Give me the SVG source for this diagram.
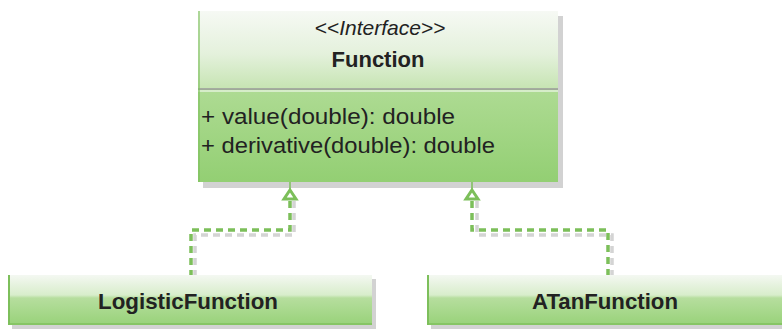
<svg xmlns="http://www.w3.org/2000/svg" width="782" height="329" viewBox="0 0 782 329">
  <defs>
    <linearGradient id="headGrad" x1="0" y1="0" x2="0" y2="1">
      <stop offset="0" stop-color="#f6f9f4"/>
      <stop offset="0.55" stop-color="#e4f1dc"/>
      <stop offset="1" stop-color="#c6e4b2"/>
    </linearGradient>
    <linearGradient id="bodyGrad" x1="0" y1="0" x2="0" y2="1">
      <stop offset="0" stop-color="#aedb93"/>
      <stop offset="1" stop-color="#93cf73"/>
    </linearGradient>
    <linearGradient id="classGrad" x1="0" y1="0" x2="0" y2="1">
      <stop offset="0" stop-color="#f4f8f2"/>
      <stop offset="0.4" stop-color="#d8edcb"/>
      <stop offset="0.46" stop-color="#b6de9e"/>
      <stop offset="1" stop-color="#98d279"/>
    </linearGradient>
  </defs>
  <style>
    .shadow { fill: #d2d2d2; }
    .edge { stroke: #7dbf5b; stroke-width: 2; fill: none; }
    .sep { stroke: #9a9a9a; stroke-width: 1.5; }
    .sepLight { stroke: #ffffff; stroke-width: 1; }
    .stereo { font-family: "Liberation Sans", Arial, sans-serif; font-size: 21px; font-style: italic; fill: #222; text-anchor: middle; }
    .name { font-family: "Liberation Sans", Arial, sans-serif; font-size: 22px; font-weight: bold; fill: #222; text-anchor: middle; }
    .member { font-family: "Liberation Sans", Arial, sans-serif; font-size: 22px; fill: #222; }
    .link { stroke: #7cbf5a; stroke-width: 3.5; fill: none; stroke-dasharray: 7 5; }
    .linkShadow { stroke: #d4d4d4; stroke-width: 3.5; fill: none; stroke-dasharray: 7 5; }
    .stem { stroke: #7cbf5a; stroke-width: 1.5; fill: none; }
    .head { stroke: #7cbf5a; stroke-width: 3; fill: #ffffff; stroke-linejoin: miter; }
  </style>

  <!-- Function interface -->
  <g id="function">
    <rect class="shadow" x="203" y="16" width="360" height="172"/>
    <rect x="198" y="11" width="360" height="78" fill="url(#headGrad)"/>
    <rect x="198" y="89" width="360" height="93" fill="url(#bodyGrad)"/>
    <line class="sep" x1="198" y1="89" x2="558" y2="89"/>
    <line class="sepLight" x1="198" y1="91" x2="558" y2="91"/>
    <line class="edge" x1="199" y1="11" x2="199" y2="182" stroke-opacity="0.6"/>
    <text class="stereo" x="380" y="35">&lt;&lt;Interface&gt;&gt;</text>
    <text class="name" x="378" y="67">Function</text>
    <text class="member" x="201" y="124" textLength="254" lengthAdjust="spacingAndGlyphs">+ value(double): double</text>
    <text class="member" x="201" y="153" textLength="294" lengthAdjust="spacingAndGlyphs">+ derivative(double): double</text>
  </g>

  <!-- LogisticFunction class -->
  <g id="logisticFunction">
    <rect class="shadow" x="12" y="279" width="364" height="50"/>
    <rect x="8" y="275" width="364" height="50" fill="url(#classGrad)"/>
    <line class="edge" x1="9" y1="275" x2="9" y2="325"/>
    <line class="edge" x1="8" y1="324" x2="372" y2="324" stroke-opacity="0.7"/>
    <text class="name" x="188" y="309" textLength="180" lengthAdjust="spacingAndGlyphs">LogisticFunction</text>
  </g>

  <!-- ATanFunction class -->
  <g id="atanFunction">
    <rect class="shadow" x="431" y="279" width="364" height="50"/>
    <rect x="427" y="275" width="364" height="50" fill="url(#classGrad)"/>
    <line class="edge" x1="428" y1="275" x2="428" y2="325"/>
    <line class="edge" x1="427" y1="324" x2="791" y2="324" stroke-opacity="0.7"/>
    <text class="name" x="605" y="309" textLength="146" lengthAdjust="spacingAndGlyphs">ATanFunction</text>
  </g>

  <!-- realization connectors -->
  <g id="connectors">
    <polyline class="linkShadow" points="294,201 294,235 195,235 195,275"/>
    <polyline class="linkShadow" points="477,201 477,235 612,235 612,275"/>
    <polyline class="link" points="290,201 290,230 191,230 191,275"/>
    <polyline class="link" points="472,201 472,230 608,230 608,275"/>
    <line class="stem" x1="290" y1="182" x2="290" y2="191"/>
    <line class="stem" x1="472" y1="182" x2="472" y2="191"/>
    <polygon class="head" points="290,190 296,199 284,199"/>
    <polygon class="head" points="472,190 478,199 466,199"/>
  </g>
</svg>
